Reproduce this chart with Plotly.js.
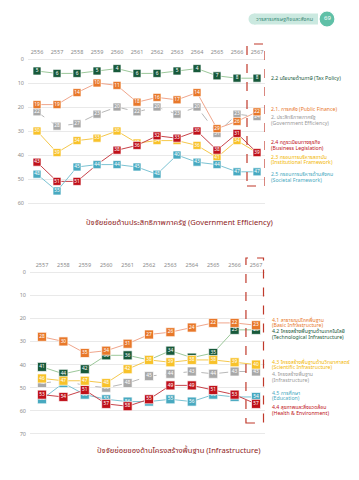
<!DOCTYPE html>
<html><head><meta charset="utf-8">
<script src="https://cdn.plot.ly/plotly-3.0.1.min.js"></script>
<style>html,body{margin:0;padding:0;background:#fff;}#chart{width:359px;height:480px;}</style>
</head><body><div id="chart"></div>
<script>
// ---------- Chart 1: Government Efficiency ----------
const years1 = ['2556','2557','2558','2559','2560','2561','2562','2563','2564','2565','2566','2567'];
const taxPolicy      = [5,6,6,5,4,6,6,5,4,7,8,8];
const publicFinance  = [19,19,14,10,11,18,16,17,14,29,26,22];
const govEfficiency  = [22,28,27,23,20,22,20,23,20,31,23,24];
const institutional  = [30,39,34,33,30,35,34,34,36,41,34,39];
const businessLeg    = [43,51,51,44,38,36,32,33,30,38,31,39];
const societal       = [48,55,45,44,44,45,48,40,43,44,47,47];

// ---------- Chart 2: Infrastructure ----------
const years2 = ['2557','2558','2559','2560','2561','2562','2563','2564','2565','2566','2567'];
const basicInfra     = [28,30,35,34,31,27,26,24,22,22,23];
const techInfra      = [41,44,42,36,36,38,34,37,35,25,25];
const sciInfra       = [46,47,47,48,42,38,39,38,38,39,40];
const infraOverall   = [48,47,49,50,48,45,44,43,44,43,43];
const education      = [55,48,53,55,56,56,55,56,53,54,54];
const healthEnv      = [53,54,51,57,58,55,49,49,51,53,57];

const yTicks1 = [0,10,20,30,40,50,60];
const yTicks2 = [0,10,20,30,40,50,60,70];

const W = 359, H = 480;
const px = v => v / W;
const py = v => 1 - v / H;
const FONT = 'Noto Sans Thai, Noto Sans, Roboto, sans-serif';

const C = {
  green:  {m:'#17593a', l:'#9cc89a'},
  orange: {m:'#e8782a', l:'#f0a68c'},
  gray:   {m:'#a8a8a8', l:'#b8b8b8'},
  yellow: {m:'#f8c22a', l:'#f5c84c'},
  red:    {m:'#c0111a', l:'#c8434a'},
  teal:   {m:'#48a9c0', l:'#7cc3d3'}
};

function series(vals, col, xa, ya, size, dash) {
  return {
    type:'scatter', mode:'lines+markers+text',
    x: vals.map((_, i) => i), y: vals,
    xaxis: xa, yaxis: ya,
    text: vals.map(String), textposition:'middle center',
    textfont:{color:'#ffffff', size:4.8, family:FONT},
    line:{color:col.l, width:1, dash: dash || 'solid'},
    marker:{symbol:'square', size:size, color:col.m, line:{color:'rgba(255,255,255,0.85)', width:0.8}},
    cliponaxis:false, hoverinfo:'skip', showlegend:false
  };
}

// a label whose box is completely covered by a later-drawn box of the same value is not shown
function hideCovered(traces) {
  traces.forEach((t, k) => {
    t.text = t.y.map((v, i) => traces.slice(k + 1).some(u => u.y[i] === v) ? '' : String(v));
  });
  return traces;
}

const group1 = hideCovered([
  series(govEfficiency, C.gray, 'x', 'y', 8, 'dash'),
  series(institutional, C.yellow, 'x', 'y', 8),
  series(businessLeg, C.red, 'x', 'y', 8),
  series(societal, C.teal, 'x', 'y', 8),
  series(publicFinance, C.orange, 'x', 'y', 8),
  series(taxPolicy, C.green, 'x', 'y', 8)
]);
const group2 = hideCovered([
  series(infraOverall, C.gray, 'x2', 'y2', 9, 'dash'),
  series(education, C.teal, 'x2', 'y2', 9),
  series(healthEnv, C.red, 'x2', 'y2', 9),
  series(techInfra, C.green, 'x2', 'y2', 9),
  series(sciInfra, C.yellow, 'x2', 'y2', 9),
  series(basicInfra, C.orange, 'x2', 'y2', 9)
]);
const data = group1.concat(group2);

const tickFont = {size:5.5, color:'#8a8a8a', family:FONT};
const xCommon = {side:'top', showgrid:false, zeroline:false, showline:false, ticks:'', tickfont:tickFont, fixedrange:true, ticklabelstandoff:1};
const yCommon = {showgrid:true, gridcolor:'#e9e9e9', gridwidth:1, zeroline:false, showline:false, ticks:'', tickfont:tickFont, fixedrange:true, ticklabelstandoff:3};

function legendLine(txt, y, color, x) {
  return {text:txt, xref:'paper', yref:'paper', x:px(x), y:py(y), xanchor:'left', yanchor:'middle',
          showarrow:false, font:{size:5.2, color:color, family:FONT}};
}

const annotations = [
  {text:'วารสารเศรษฐกิจและสังคม', xref:'paper', yref:'paper', x:px(284), y:py(19), xanchor:'center', yanchor:'middle', showarrow:false, font:{size:5.5, color:'#3f8d7c', family:FONT}},
  {text:'69', xref:'paper', yref:'paper', x:px(327), y:py(19), xanchor:'center', yanchor:'middle', showarrow:false, font:{size:6, color:'#ffffff', family:FONT}},

  legendLine('2.2 นโยบายด้านภาษี (Tax Policy)', 78, C.green.m, 269),
  legendLine('2.1. การคลัง (Public Finance)', 109, C.orange.m, 269),
  legendLine('2. ประสิทธิภาพภาครัฐ', 117.5, '#9a9a9a', 269),
  legendLine('(Government Efficiency)', 123.3, '#9a9a9a', 269),
  legendLine('2.4 กฎระเบียบทางธุรกิจ', 142.3, C.red.m, 269),
  legendLine('(Business Legislation)', 147.5, C.red.m, 269),
  legendLine('2.3 กรอบการบริหารสถาบัน', 156.7, '#f2b705', 269),
  legendLine('(Institutional Framework)', 162, '#f2b705', 269),
  legendLine('2.5 กรอบการบริหารด้านสังคม', 174.3, C.teal.m, 269),
  legendLine('(Societal Framework)', 180, C.teal.m, 269),

  legendLine('4.1 สาธารณูปโภคพื้นฐาน', 319.5, C.orange.m, 270),
  legendLine('(Basic Infrastructure)', 325, C.orange.m, 270),
  legendLine('4.2 โครงสร้างพื้นฐานด้านเทคโนโลยี', 331, C.green.m, 270),
  legendLine('(Technological Infrastructure)', 336.5, C.green.m, 270),
  legendLine('4.3 โครงสร้างพื้นฐานด้านวิทยาศาสตร์', 361.7, '#f2b705', 270),
  legendLine('(Scientific Infrastructure)', 367, '#f2b705', 270),
  legendLine('4. โครงสร้างพื้นฐาน', 374.3, '#9a9a9a', 270),
  legendLine('(Infrastructure)', 380, '#9a9a9a', 270),
  legendLine('4.5 การศึกษา', 392.7, C.teal.m, 270),
  legendLine('(Education)', 398.3, C.teal.m, 270),
  legendLine('4.4 สุขภาพและสิ่งแวดล้อม', 407.3, C.red.m, 270),
  legendLine('(Health & Environment)', 413, C.red.m, 270),

  {text:'ปัจจัยย่อยด้านประสิทธิภาพภาครัฐ (Government Efficiency)', xref:'paper', yref:'paper', x:px(179), y:py(222), xanchor:'center', yanchor:'middle', showarrow:false, font:{size:7.6, color:'#8e1b1b', family:FONT}},
  {text:'ปัจจัยย่อยของด้านโครงสร้างพื้นฐาน (Infrastructure)', xref:'paper', yref:'paper', x:px(179), y:py(450.5), xanchor:'center', yanchor:'middle', showarrow:false, font:{size:7.6, color:'#8e1b1b', family:FONT}}
];

const shapes = [
  {type:'rect', xref:'paper', yref:'paper', x0:px(254), x1:px(318), y0:py(24.5), y1:py(13.5), fillcolor:'#cbe9e0', line:{width:0}, layer:'below'},
  {type:'circle', xref:'paper', yref:'paper', x0:px(248.5), x1:px(259.5), y0:py(24.5), y1:py(13.5), fillcolor:'#cbe9e0', line:{width:0}, layer:'below'},
  {type:'circle', xref:'paper', yref:'paper', x0:px(319), x1:px(335), y0:py(27), y1:py(11), fillcolor:'#5fc0a7', line:{color:'#ffffff', width:1.2}},
  {type:'rect', xref:'x', yref:'paper', x0:10.5, x1:11.4, y0:py(186), y1:py(44), line:{color:'#c0392b', width:1.2, dash:'dash'}, fillcolor:'rgba(0,0,0,0)'},
  {type:'rect', xref:'x2', yref:'paper', x0:9.53, x1:10.35, y0:py(423), y1:py(258), line:{color:'#c0392b', width:1.2, dash:'dash'}, fillcolor:'rgba(0,0,0,0)'}
];

const layout = {
  width:W, height:H, margin:{l:0, r:0, t:0, b:0},
  paper_bgcolor:'#ffffff', plot_bgcolor:'rgba(0,0,0,0)',
  font:{family:FONT},
  showlegend:false,
  xaxis: Object.assign({}, xCommon, {domain:[px(28), px(265)], range:[-0.45, 11.4], tickvals:years1.map((_, i) => i), ticktext:years1, anchor:'y'}),
  yaxis: Object.assign({}, yCommon, {domain:[py(205.4), py(56.6)], range:[61, -1], tickvals:yTicks1, anchor:'x'}),
  xaxis2: Object.assign({}, xCommon, {domain:[px(30), px(265)], range:[-0.56, 10.42], tickvals:years2.map((_, i) => i), ticktext:years2, anchor:'y2'}),
  yaxis2: Object.assign({}, yCommon, {domain:[py(436.3), py(269.7)], range:[71, -1], tickvals:yTicks2, anchor:'x2'}),
  annotations: annotations,
  shapes: shapes
};

Plotly.newPlot('chart', data, layout, {staticPlot:true, displayModeBar:false});
</script>
</body></html>
